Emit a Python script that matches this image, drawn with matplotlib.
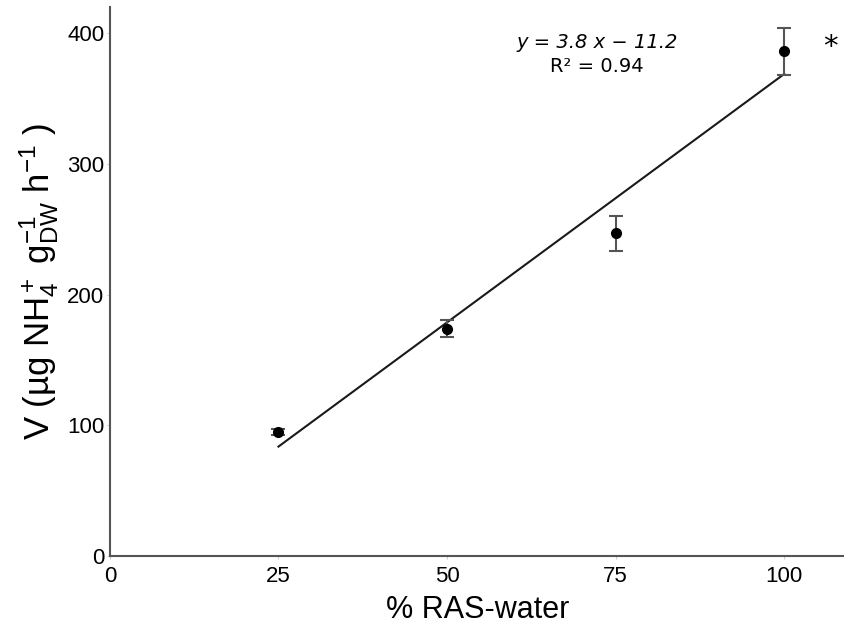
import matplotlib
matplotlib.use("Agg")
import matplotlib.pyplot as plt
import numpy as np

x_vals = [25, 50, 75, 100]
y_vals = [95, 174, 247, 386]
y_err = [2, 6.5, 13.5, 18]
slope = 3.8
intercept = -11.2
fit_x = [25, 100]
x_ticks = [0, 25, 50, 75, 100]
y_ticks = [0, 100, 200, 300, 400]

plt.rcParams['font.family'] = ['Liberation Sans', 'DejaVu Sans']
plt.rcParams['mathtext.fontset'] = 'custom'
plt.rcParams['mathtext.rm'] = 'Liberation Sans'
plt.rcParams['mathtext.it'] = 'Liberation Sans:italic'

fig = plt.figure(figsize=(8.45, 6.32), dpi=100)
ax = fig.add_axes([0.130, 0.120, 0.870, 0.869])

fx = np.array(fit_x, dtype=float)
ax.plot(fx, slope * fx + intercept, color='#1a1a1a', lw=1.5, zorder=2)
ax.errorbar(x_vals, y_vals, yerr=y_err, fmt='o', color='black', ms=7,
            ecolor='#555555', elinewidth=1.5, capsize=5, capthick=1.5, zorder=3)

ax.set_xlim(0, 109)
ax.set_ylim(0, 420)
ax.set_xticks(x_ticks)
ax.set_yticks(y_ticks)
ax.tick_params(axis='both', labelsize=16, length=2, width=0.8, color='#cccccc')
ax.tick_params(axis='x', pad=5)
ax.tick_params(axis='y', pad=2)

for s in ['top', 'right']:
    ax.spines[s].set_visible(False)
for s in ['left', 'bottom']:
    ax.spines[s].set_color('#555555')
    ax.spines[s].set_linewidth(1.5)

ax.set_xlabel('% RAS-water', fontsize=22, labelpad=6)
ax.set_ylabel(r'V (µg NH$_4^+$ g$_{\mathrm{DW}}^{-1}$ h$^{-1}$ )', fontsize=25, labelpad=4)

fig.text(597 / 845, 1 - 43 / 632, 'y = 3.8 x − 11.2', family='DejaVu Sans', style='italic',
         fontsize=14, ha='center', va='center')
fig.text(597 / 845, 1 - 67 / 632, 'R² = 0.94', family='DejaVu Sans',
         fontsize=14, ha='center', va='center')
fig.text(830 / 845, 1 - 47 / 632, '*', family='DejaVu Sans', fontsize=21,
         ha='center', va='center')

fig.savefig('out.png', dpi=100)
